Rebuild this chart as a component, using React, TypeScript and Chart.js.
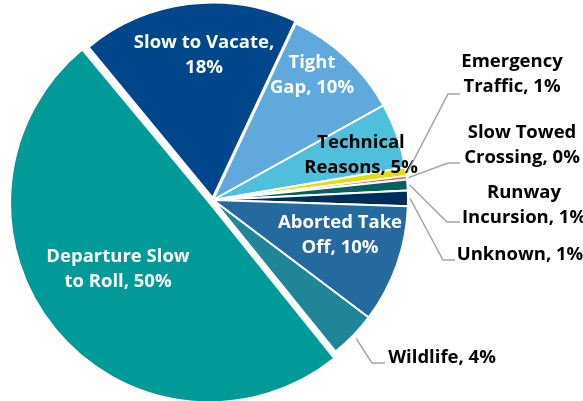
import React, { useEffect, useRef } from "react";
import { Chart, registerables } from "chart.js";

Chart.register(...registerables);

// ---- data ----
const categories = [
  "Slow to Vacate",
  "Tight Gap",
  "Technical Reasons",
  "Emergency Traffic",
  "Slow Towed Crossing",
  "Runway Incursion",
  "Unknown",
  "Aborted Take Off",
  "Wildlife",
  "Departure Slow to Roll",
];
const shares = [18, 10, 5.4, 0.7, 0.3, 0.9, 1.3, 9.8, 3.9, 50];
const pctLabels = ["18%", "10%", "5%", "1%", "0%", "1%", "1%", "10%", "4%", "50%"];

// ---- styles / layout ----
const colors = [
  "#00468A",
  "#5FA9DC",
  "#4EC0DB",
  "#E6DE00",
  "#E85B6A",
  "#00615F",
  "#002C5B",
  "#246A9F",
  "#208597",
  "#009A98",
];
const explode = [9, 0, 0, 0, 0, 0, 0, 0, 0, 18];

const FONT_SIZE = 18.5;
const LINE_H = 25;
const FONT = `bold ${FONT_SIZE}px "Open Sans", "Noto Sans", sans-serif`;
const LEADER_COLOR = "#A6A6A6";

type Leader = { gap: number; ex: number; ey: number; endX: number };
type LabelLayout = { x: number; y: number; color: string; split: number; leader?: Leader };

const labelLayout: LabelLayout[] = [
  { x: 204, y: 48, color: "#fff", split: 3 },
  { x: 312, y: 68, color: "#fff", split: 1 },
  { x: 361, y: 148, color: "#000", split: 1 },
  { x: 512, y: 67, color: "#000", split: 1, leader: { gap: 2, ex: 448, ey: 94, endX: 460 } },
  { x: 522, y: 138, color: "#000", split: 2, leader: { gap: 2, ex: 448, ey: 163, endX: 460 } },
  { x: 524, y: 198, color: "#000", split: 1, leader: { gap: 2, ex: 447, ey: 222, endX: 460 } },
  { x: 520, y: 260, color: "#000", split: 9, leader: { gap: 2, ex: 443, ey: 260, endX: 455 } },
  { x: 340, y: 228, color: "#fff", split: 2 },
  { x: 442, y: 363, color: "#000", split: 9, leader: { gap: 4, ex: 372, ey: 363, endX: 385 } },
  { x: 118, y: 262, color: "#fff", split: 2 },
];

const labelPlugin = {
  id: "pieLabels",
  afterDatasetsDraw(chart: any) {
    const ctx = chart.ctx as CanvasRenderingContext2D;
    const arcs = chart.getDatasetMeta(0).data;
    ctx.save();
    ctx.font = FONT;
    ctx.textAlign = "center";
    ctx.textBaseline = "alphabetic";
    labelLayout.forEach((L, i) => {
      const arc = arcs[i];
      if (!arc) return;
      const words = `${categories[i]}, ${pctLabels[i]}`.split(" ");
      const lines =
        L.split >= words.length
          ? [words.join(" ")]
          : [words.slice(0, L.split).join(" "), words.slice(L.split).join(" ")];
      if (L.leader) {
        const p = arc.getProps(["x", "y", "startAngle", "endAngle", "outerRadius"], true);
        const mid = (p.startAngle + p.endAngle) / 2;
        const r = p.outerRadius + L.leader.gap;
        const sx = p.x + Math.cos(mid) * r;
        const sy = p.y + Math.sin(mid) * r;
        ctx.beginPath();
        ctx.strokeStyle = LEADER_COLOR;
        ctx.lineWidth = 1.5;
        ctx.moveTo(sx, sy);
        ctx.lineTo(L.leader.ex, L.leader.ey);
        ctx.lineTo(L.leader.endX, L.leader.ey);
        ctx.stroke();
      }
      ctx.fillStyle = L.color;
      lines.forEach((t, k) => ctx.fillText(t, L.x, L.y + k * LINE_H));
    });
    ctx.restore();
  },
};

export default function App() {
  const ref = useRef<HTMLCanvasElement | null>(null);
  useEffect(() => {
    if (!ref.current) return;
    const chart = new Chart(ref.current, {
      type: "pie",
      data: {
        labels: categories,
        datasets: [
          {
            data: shares,
            backgroundColor: colors,
            borderColor: "#ffffff",
            borderWidth: 2,
            offset: explode,
            hoverOffset: 0,
          },
        ],
      },
      options: {
        responsive: false,
        animation: false,
        devicePixelRatio: 1,
        rotation: -39.5,
        radius: 195,
        layout: { padding: { left: 0, right: 157, top: 0, bottom: 1 } },
        plugins: {
          legend: { display: false },
          tooltip: { enabled: false },
          title: { display: false },
        },
        events: [],
      },
      plugins: [labelPlugin],
    });
    return () => chart.destroy();
  }, []);
  return (
    <div style={{ position: "fixed", left: 0, top: 0, width: 583, height: 401, background: "#fff" }}>
      <canvas ref={ref} width={583} height={401} />
    </div>
  );
}
